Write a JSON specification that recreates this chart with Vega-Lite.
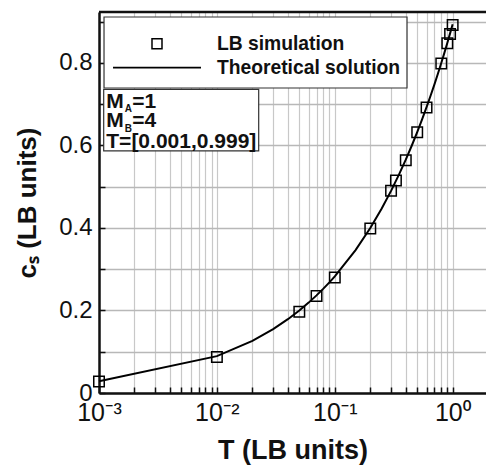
{
  "$schema": "https://vega.github.io/schema/vega-lite/v6.json",
  "autosize": {"type": "none"},
  "padding": {"left": 99, "top": 12, "right": 0, "bottom": 73},
  "width": 387,
  "height": 381,
  "background": "white",
  "config": {
    "view": {"stroke": null},
    "font": "Liberation Sans",
    "axisX": {
      "labelFont": "Liberation Sans, Noto Sans", "labelFontSize": 25, "labelColor": "#111", "labelPadding": 13, "labelFlush": false, "labelOverlap": false,
      "titleFont": "Liberation Sans", "titleFontSize": 27, "titleFontWeight": "bold", "titleColor": "#111", "titlePadding": 12,
      "grid": true, "gridColor": "#c8c8c8", "gridWidth": 1.2,
      "ticks": true, "tickColor": "#111", "tickWidth": 1.5, "tickSize": -6,
      "domain": true, "domainColor": "#111", "domainWidth": 2.5
    },
    "axisY": {
      "labelFont": "Liberation Sans", "labelFontSize": 24, "labelColor": "#111", "labelPadding": 13, "labelFlush": false, "labelOverlap": false,
      "titleFont": "Liberation Sans", "titleFontSize": 26, "titleFontWeight": "bold", "titleColor": "#111", "titlePadding": 18,
      "grid": true, "gridColor": "#b8b8b8", "gridWidth": 1.6,
      "ticks": true, "tickColor": "#111", "tickWidth": 1.5, "tickSize": -6,
      "domain": true, "domainColor": "#111", "domainWidth": 2.5
    }
  },
  "datasets": {
    "sim": [
      {"T": 0.001, "cs": 0.028},
      {"T": 0.01, "cs": 0.087},
      {"T": 0.05, "cs": 0.197},
      {"T": 0.07, "cs": 0.235},
      {"T": 0.1, "cs": 0.28},
      {"T": 0.2, "cs": 0.399},
      {"T": 0.3, "cs": 0.49},
      {"T": 0.33, "cs": 0.515},
      {"T": 0.4, "cs": 0.564},
      {"T": 0.5, "cs": 0.632},
      {"T": 0.6, "cs": 0.692},
      {"T": 0.8, "cs": 0.799},
      {"T": 0.9, "cs": 0.848},
      {"T": 0.95, "cs": 0.870},
      {"T": 0.999, "cs": 0.892}
    ],
    "theory": [
      {"T": 0.001, "cs": 0.0283},
      {"T": 0.01, "cs": 0.0894},
      {"T": 0.02, "cs": 0.1265},
      {"T": 0.03, "cs": 0.1549},
      {"T": 0.04, "cs": 0.1789},
      {"T": 0.05, "cs": 0.2},
      {"T": 0.06, "cs": 0.2191},
      {"T": 0.07, "cs": 0.2366},
      {"T": 0.08, "cs": 0.253},
      {"T": 0.09, "cs": 0.2683},
      {"T": 0.1, "cs": 0.2828},
      {"T": 0.15, "cs": 0.3464},
      {"T": 0.2, "cs": 0.4},
      {"T": 0.25, "cs": 0.4472},
      {"T": 0.3, "cs": 0.4899},
      {"T": 0.35, "cs": 0.5292},
      {"T": 0.4, "cs": 0.5657},
      {"T": 0.45, "cs": 0.6},
      {"T": 0.5, "cs": 0.6325},
      {"T": 0.55, "cs": 0.6633},
      {"T": 0.6, "cs": 0.6928},
      {"T": 0.65, "cs": 0.7211},
      {"T": 0.7, "cs": 0.7483},
      {"T": 0.75, "cs": 0.7746},
      {"T": 0.8, "cs": 0.8},
      {"T": 0.85, "cs": 0.8246},
      {"T": 0.9, "cs": 0.8485},
      {"T": 0.95, "cs": 0.8718},
      {"T": 0.999, "cs": 0.894}
    ],
    "frame": [{"x1": 0.001, "x2": 1.916, "y": 0.9236}],
    "boxes": [
      {"x1": 0.001103, "x2": 0.4096, "y1": 0.9115, "y2": 0.7394},
      {"x1": 0.001096, "x2": 0.02262, "y1": 0.736, "y2": 0.587}
    ],
    "legsym": [{"x": 0.003104, "y": 0.8468}],
    "legline": [{"x1": 0.001315, "x2": 0.007329, "y": 0.7886}],
    "leglabels": [
      {"x": 0.01, "y": 0.8468, "label": "LB simulation"},
      {"x": 0.01, "y": 0.7886, "label": "Theoretical solution"}
    ],
    "boxmain": [
      {"x": 0.001153, "y": 0.6916, "label": "M"},
      {"x": 0.001153, "y": 0.6456, "label": "M"},
      {"x": 0.001153, "y": 0.5947, "label": "T=[0.001,0.999]"}
    ],
    "boxsub": [
      {"x": 0.001652, "y": 0.682, "label": "A"},
      {"x": 0.001652, "y": 0.6335, "label": "B"}
    ],
    "boxeq": [
      {"x": 0.001916, "y": 0.6916, "label": "=1"},
      {"x": 0.001916, "y": 0.6456, "label": "=4"}
    ]
  },
  "layer": [
    {
      "data": {"name": "sim"},
      "mark": {"type": "point", "shape": "square", "filled": false, "stroke": "black", "strokeWidth": 1.5, "size": 110, "opacity": 1},
      "encoding": {
        "x": {
          "field": "T", "type": "quantitative",
          "scale": {"type": "log", "domain": [0.001, 1.916], "nice": false},
          "axis": {
            "title": "T (LB units)",
            "values": [0.001,0.002,0.003,0.004,0.005,0.006,0.007,0.008,0.009,0.01,0.02,0.03,0.04,0.05,0.06,0.07,0.08,0.09,0.1,0.2,0.3,0.4,0.5,0.6,0.7,0.8,0.9,1],
            "labelExpr": "datum.value == 0.001 ? '10⁻³' : datum.value == 0.01 ? '10⁻²' : datum.value == 0.1 ? '10⁻¹' : datum.value == 1 ? '10⁰' : ''"
          }
        },
        "y": {
          "field": "cs", "type": "quantitative",
          "scale": {"domain": [0, 0.9236], "nice": false, "zero": false},
          "axis": {
            "title": "cₛ (LB units)",
            "values": [0,0.05,0.1,0.15,0.2,0.25,0.3,0.35,0.4,0.45,0.5,0.55,0.6,0.65,0.7,0.75,0.8,0.85,0.9],
            "labelExpr": "round(datum.value*20) % 4 == 0 ? (datum.value == 0 ? '0' : format(datum.value, '.1f')) : ''"
          }
        }
      }
    },
    {
      "data": {"name": "theory"},
      "mark": {"type": "line", "color": "black", "strokeWidth": 2},
      "encoding": {
        "x": {"field": "T", "type": "quantitative"},
        "y": {"field": "cs", "type": "quantitative"}
      }
    },
    {
      "data": {"name": "frame"},
      "mark": {"type": "rule", "color": "#111", "strokeWidth": 2.5},
      "encoding": {
        "x": {"field": "x1", "type": "quantitative"},
        "x2": {"field": "x2"},
        "y": {"field": "y", "type": "quantitative"}
      }
    },
    {
      "data": {"name": "boxes"},
      "mark": {"type": "rect", "fill": "white", "stroke": "#333", "strokeWidth": 1.2},
      "encoding": {
        "x": {"field": "x1", "type": "quantitative"},
        "x2": {"field": "x2"},
        "y": {"field": "y1", "type": "quantitative"},
        "y2": {"field": "y2"}
      }
    },
    {
      "data": {"name": "legsym"},
      "mark": {"type": "point", "shape": "square", "filled": false, "stroke": "black", "strokeWidth": 1.5, "size": 100, "opacity": 1},
      "encoding": {
        "x": {"field": "x", "type": "quantitative"},
        "y": {"field": "y", "type": "quantitative"}
      }
    },
    {
      "data": {"name": "legline"},
      "mark": {"type": "rule", "color": "black", "strokeWidth": 1.8},
      "encoding": {
        "x": {"field": "x1", "type": "quantitative"},
        "x2": {"field": "x2"},
        "y": {"field": "y", "type": "quantitative"}
      }
    },
    {
      "data": {"name": "leglabels"},
      "mark": {"type": "text", "align": "left", "baseline": "middle", "font": "Liberation Sans", "fontWeight": "bold", "fontSize": 19.3, "color": "#111"},
      "encoding": {
        "x": {"field": "x", "type": "quantitative"},
        "y": {"field": "y", "type": "quantitative"},
        "text": {"field": "label"}
      }
    },
    {
      "data": {"name": "boxmain"},
      "mark": {"type": "text", "align": "left", "baseline": "alphabetic", "font": "Liberation Sans", "fontWeight": "bold", "fontSize": 21, "color": "#111"},
      "encoding": {
        "x": {"field": "x", "type": "quantitative"},
        "y": {"field": "y", "type": "quantitative"},
        "text": {"field": "label"}
      }
    },
    {
      "data": {"name": "boxsub"},
      "mark": {"type": "text", "align": "left", "baseline": "alphabetic", "font": "Liberation Sans", "fontWeight": "bold", "fontSize": 10, "color": "#111"},
      "encoding": {
        "x": {"field": "x", "type": "quantitative"},
        "y": {"field": "y", "type": "quantitative"},
        "text": {"field": "label"}
      }
    },
    {
      "data": {"name": "boxeq"},
      "mark": {"type": "text", "align": "left", "baseline": "alphabetic", "font": "Liberation Sans", "fontWeight": "bold", "fontSize": 21, "color": "#111"},
      "encoding": {
        "x": {"field": "x", "type": "quantitative"},
        "y": {"field": "y", "type": "quantitative"},
        "text": {"field": "label"}
      }
    }
  ]
}
